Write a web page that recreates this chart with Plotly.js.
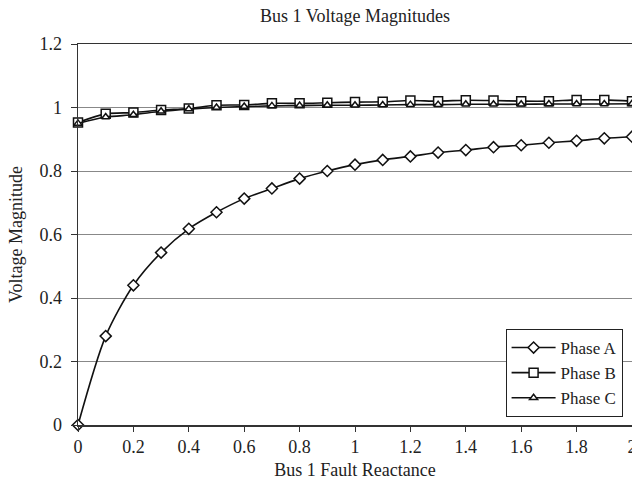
<!DOCTYPE html>
<html>
<head>
<meta charset="utf-8">
<script src="https://cdn.plot.ly/plotly-3.0.1.min.js"></script>
<style>html,body{margin:0;padding:0;background:#fff;}#chart{width:632px;height:481px;}</style>
</head>
<body>
<div id="chart"></div>
<script>
const reactance = [0, 0.1, 0.2, 0.3, 0.4, 0.5, 0.6, 0.7, 0.8, 0.9, 1.0, 1.1, 1.2, 1.3, 1.4, 1.5, 1.6, 1.7, 1.8, 1.9, 2.0];
const phaseA = [0, 0.28, 0.44, 0.543, 0.618, 0.67, 0.713, 0.745, 0.776, 0.80, 0.82, 0.835, 0.846, 0.858, 0.866, 0.875, 0.881, 0.889, 0.895, 0.903, 0.908];
const phaseB = [0.953, 0.98, 0.984, 0.992, 0.997, 1.007, 1.008, 1.013, 1.013, 1.015, 1.017, 1.018, 1.022, 1.02, 1.023, 1.022, 1.02, 1.02, 1.024, 1.024, 1.02];
const phaseC = [0.95, 0.97, 0.977, 0.988, 0.995, 1.0, 1.003, 1.005, 1.006, 1.007, 1.007, 1.008, 1.009, 1.009, 1.01, 1.01, 1.01, 1.011, 1.011, 1.011, 1.012];
const xTicks = [0, 0.2, 0.4, 0.6, 0.8, 1, 1.2, 1.4, 1.6, 1.8, 2];
const yTicks = [0, 0.2, 0.4, 0.6, 0.8, 1, 1.2];

const FAM = 'Liberation Serif, Times New Roman, serif';
const TXT = '#222';

function trace(name, y, symbol, size) {
  return {
    x: reactance, y: y, name: name, type: 'scatter', mode: 'lines+markers',
    line: {color: '#111', width: 1.6, shape: 'spline', smoothing: 0.8},
    marker: {symbol: symbol, size: size, color: '#fff', line: {color: '#111', width: 1.5}},
    cliponaxis: false
  };
}

const data = [
  trace('Phase A', phaseA, 'diamond', 8.5),
  trace('Phase B', phaseB, 'square', 9),
  trace('Phase C', phaseC, 'triangle-up', 7)
];

const layout = {
  width: 632, height: 481,
  margin: {l: 78, r: 0, t: 44, b: 56},
  paper_bgcolor: '#fff', plot_bgcolor: '#fff',
  font: {family: FAM, size: 18, color: TXT},
  title: {text: 'Bus 1 Voltage Magnitudes', font: {family: FAM, size: 18, color: TXT}, x: 0.5, xanchor: 'center', xref: 'paper', y: 0.968, yanchor: 'middle'},
  xaxis: {
    range: [0, 2], tickvals: xTicks, ticktext: xTicks.map(String),
    showgrid: false, zeroline: false, showline: true, linecolor: '#333', linewidth: 1.5, mirror: true,
    ticks: 'outside', ticklen: 5, tickcolor: '#333', ticklabeloverflow: 'allow',
    tickfont: {family: FAM, size: 18, color: TXT},
    title: {text: 'Bus 1 Fault Reactance', font: {family: FAM, size: 18, color: TXT}, standoff: 7}
  },
  yaxis: {
    range: [0, 1.2], tickvals: yTicks, ticktext: yTicks.map(String),
    showgrid: true, gridcolor: '#888', gridwidth: 1, zeroline: false,
    showline: true, linecolor: '#333', linewidth: 1.5, mirror: true,
    ticks: 'outside', ticklen: 6, tickcolor: '#333', ticklabelstandoff: 5,
    tickfont: {family: FAM, size: 18, color: TXT},
    title: {text: 'Voltage Magnitude', font: {family: FAM, size: 18, color: TXT}, standoff: 12}
  },
  legend: {
    x: 0.983, xanchor: 'right', y: 0.021, yanchor: 'bottom',
    bgcolor: '#fff', bordercolor: '#222', borderwidth: 1,
    font: {family: FAM, size: 17, color: TXT},
    tracegroupgap: 0, itemwidth: 44
  },
  showlegend: true
};

Plotly.newPlot('chart', data, layout, {displayModeBar: false, staticPlot: true});
</script>
</body>
</html>
